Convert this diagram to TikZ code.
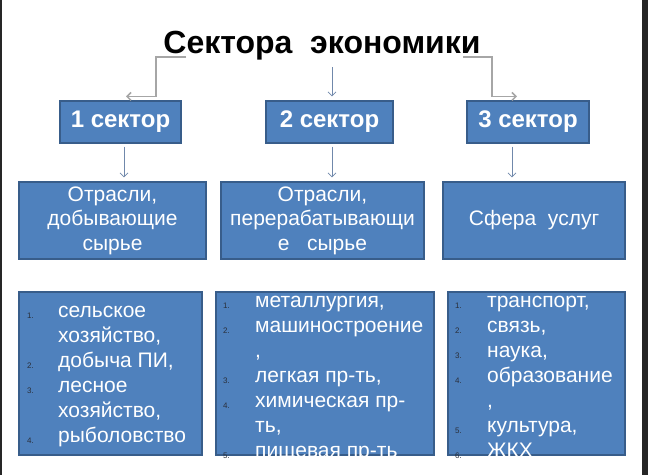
\documentclass[tikz,border=0pt]{standalone}
\usepackage{fontspec}
\setmainfont{Liberation Sans}
\usetikzlibrary{arrows.meta}

\tikzstyle{title-text}=[anchor=base, inner sep=0pt, font=\fontsize{32}{38}\selectfont\bfseries]
\tikzstyle{sector-box}=[draw={BoxBorder}, fill={BoxBlue}, line width=1.2pt, text={white}, minimum height=42pt, inner sep=0pt, font=\fontsize{24}{28}\selectfont\bfseries]
\tikzstyle{branch-box}=[draw={BoxBorder}, fill={BoxBlue}, line width=1.2pt, text={white}, minimum height=77pt, inner sep=0pt, align=center, font=\fontsize{21}{24.5}\selectfont]
\tikzstyle{list-box}=[draw={BoxBorder}, fill={BoxBlue}, line width=1.2pt, minimum height=163pt, inner sep=0pt]
\tikzstyle{list-text}=[anchor=base west, inner sep=0pt, text={white}, font=\fontsize{21}{25}\selectfont]
\tikzstyle{list-num}=[anchor=base west, inner sep=0pt, text={NumGrey}, font=\fontsize{8}{9}\selectfont]
\tikzstyle{elbow-line}=[draw={ElbowGrey}, line width=1.5pt, -{Straight Barb[length=4pt, width=8pt]}]
\tikzstyle{thin-arrow}=[draw={ArrowBlue}, line width=0.8pt, -{Straight Barb[length=4pt, width=8pt]}]
\definecolor{BoxBlue}{HTML}{4f81bd}
\definecolor{BoxBorder}{HTML}{385d8a}
\definecolor{ElbowGrey}{HTML}{a6a6a6}
\definecolor{ArrowBlue}{HTML}{7088ab}
\definecolor{NumGrey}{HTML}{2a2f3a}
\definecolor{ScreenEdge}{HTML}{262626}

\begin{document}
\begin{tikzpicture}[x=1pt, y=-1pt]
      \useasboundingbox (0,0) rectangle (648,475);
      \fill[white] (0,0) rectangle (648,475);
      \fill[ScreenEdge] (0,0) rectangle (2,475);
      \fill[ScreenEdge] (642,0) rectangle (648,475);

      \node (title) at (322, 53)
            [title-text] {Сектора\ \ экономики};
      \coordinate (title-left) at (186, 57);
      \coordinate (title-mid) at (332, 67);
      \coordinate (title-right) at (463, 57);

      \node (sector-1) at (120.5, 122)
            [sector-box, minimum width=121pt] {1 сектор};
      \node (sector-2) at (329.5, 122)
            [sector-box, minimum width=127pt] {2 сектор};
      \node (sector-3) at (528, 122)
            [sector-box, minimum width=122pt] {3 сектор};

      \node (branch-a) at (112.5, 220.5)
            [branch-box, minimum width=187pt] {Отрасли,\\добывающие\\сырье};
      \node (branch-b) at (322.5, 220.5)
            [branch-box, minimum width=203pt] {Отрасли,\\перерабатывающи\\е\ \ \ сырье};
      \node (branch-c) at (534, 220.5)
            [branch-box, minimum width=182pt] {Сфера\ \ услуг};

      \node (list-a) at (110.5, 373.5)
            [list-box, minimum width=183pt] {};
      \node (list-b) at (325, 373.5)
            [list-box, minimum width=218pt] {};
      \node (list-c) at (536.5, 373.5)
            [list-box, minimum width=177pt] {};

      \draw[elbow-line] (title-left) -- ++(-30,0) |- ([xshift=5.5pt, yshift=4pt]sector-1.north);
      \draw[thin-arrow] (title-mid) -- ([xshift=2.5pt, yshift=4pt]sector-2.north);
      \draw[elbow-line] (title-right) -- ++(29,0) |- ([xshift=-11pt, yshift=4pt]sector-3.north);

      \draw[thin-arrow, shorten <=3pt, shorten >=4pt] ([xshift=3.5pt]sector-1.south) -- ([xshift=11.5pt]branch-a.north);
      \draw[thin-arrow, shorten <=3pt, shorten >=4pt] ([xshift=2.5pt]sector-2.south) -- ([xshift=9.5pt]branch-b.north);
      \draw[thin-arrow, shorten <=3pt, shorten >=4pt] ([xshift=-16pt]sector-3.south) -- ([xshift=-22pt]branch-c.north);

      \begin{scope}
            \clip (list-a.south west) rectangle (list-a.north east);
            \foreach \entry [count=\k] in {{сельское},{хозяйство,},{добыча ПИ,},{лесное},{хозяйство,},{рыболовство}}
                  \node (text-a-\k) at (58, {317.5+25*(\k-1)}) [list-text] {\entry};
      \end{scope}
      \begin{scope}
            \clip (list-b.south west) rectangle (list-b.north east);
            \foreach \entry [count=\k] in {{металлургия,},{машиностроение},{,},{легкая пр-ть,},{химическая пр-},{ть,},{пищевая пр-ть}}
                  \node (text-b-\k) at (255, {307.5+25*(\k-1)}) [list-text] {\entry};
      \end{scope}
      \begin{scope}
            \clip (list-c.south west) rectangle (list-c.north east);
            \foreach \entry [count=\k] in {{транспорт,},{связь,},{наука,},{образование},{,},{культура,},{ЖКХ}}
                  \node (text-c-\k) at (487, {307.5+25*(\k-1)}) [list-text] {\entry};
      \end{scope}

      \foreach \n/\row in {1/1, 2/3, 3/4, 4/6}
            \node (num-a-\n) at (27, {318.5+25*(\row-1)}) [list-num] {\n.};
      \foreach \n/\row in {1/1, 2/2, 3/4, 4/5, 5/7}
            \node (num-b-\n) at (223, {308.5+25*(\row-1)}) [list-num] {\n.};
      \foreach \n/\row in {1/1, 2/2, 3/3, 4/4, 5/6, 6/7}
            \node (num-c-\n) at (455, {308.5+25*(\row-1)}) [list-num] {\n.};
    \end{tikzpicture}
\end{document}
